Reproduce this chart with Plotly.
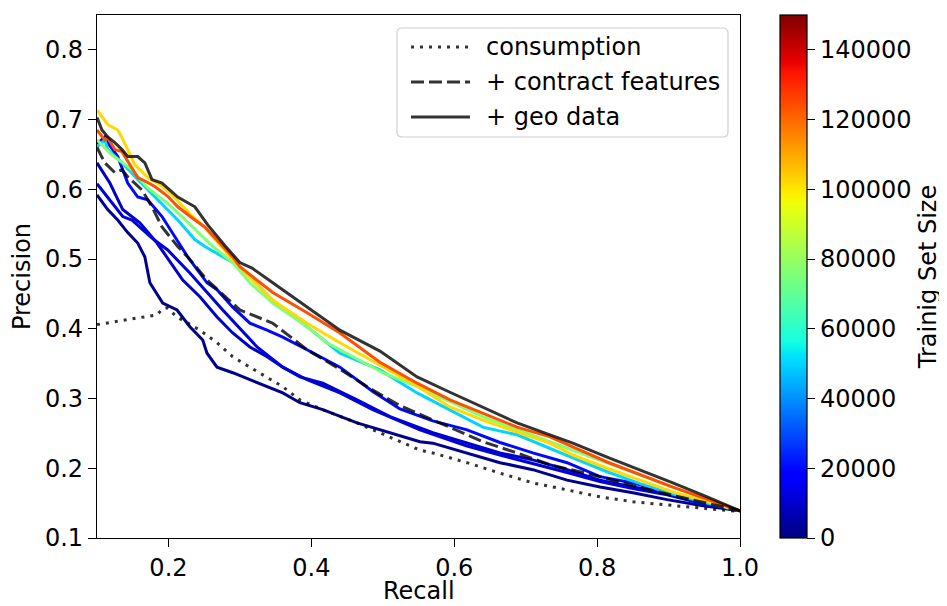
import plotly.graph_objects as go

# ---------------- data ----------------
train_sizes = [2000, 9500, 12000, 20000, 50000, 76000, 102000, 124000]

recall_2000 = [0.100, 0.115, 0.129, 0.143, 0.157, 0.167, 0.174, 0.192, 0.212, 0.230, 0.248, 0.254, 0.268, 0.290,
               0.314, 0.338, 0.360, 0.384, 0.416, 0.464, 0.510, 0.552, 0.570, 0.618, 0.664, 0.710, 0.758, 0.804,
               0.850, 0.898, 0.944, 1.000]
precision_2000 = [0.592, 0.571, 0.556, 0.538, 0.523, 0.503, 0.466, 0.437, 0.427, 0.403, 0.384, 0.365, 0.345, 0.337,
                  0.327, 0.317, 0.308, 0.294, 0.284, 0.265, 0.251, 0.238, 0.236, 0.222, 0.208, 0.198, 0.183, 0.173,
                  0.165, 0.155, 0.147, 0.139]

recall_9500 = [0.100, 0.118, 0.136, 0.160, 0.184, 0.206, 0.220, 0.244, 0.268, 0.290, 0.314, 0.338, 0.360, 0.384,
               0.416, 0.464, 0.510, 0.570, 0.618, 0.664, 0.710, 0.758, 0.804, 0.850, 0.898, 0.944, 1.000]
precision_9500 = [0.638, 0.609, 0.571, 0.552, 0.523, 0.490, 0.470, 0.446, 0.417, 0.394, 0.374, 0.360, 0.345, 0.331,
                  0.322, 0.298, 0.274, 0.251, 0.236, 0.222, 0.212, 0.198, 0.183, 0.173, 0.165, 0.150, 0.139]

recall_12000 = [0.100, 0.125, 0.136, 0.149, 0.177, 0.199, 0.230, 0.276, 0.324, 0.360, 0.394, 0.440, 0.486, 0.552,
                0.618, 0.664, 0.710, 0.758, 0.804, 0.850, 0.898, 0.944, 1.000]
precision_12000 = [0.608, 0.575, 0.561, 0.556, 0.530, 0.513, 0.480, 0.427, 0.374, 0.345, 0.327, 0.308, 0.284, 0.255,
                   0.232, 0.219, 0.207, 0.194, 0.181, 0.171, 0.162, 0.150, 0.139]

recall_20000 = [0.100, 0.111, 0.115, 0.129, 0.143, 0.157, 0.171, 0.191, 0.209, 0.227, 0.254, 0.268, 0.290, 0.314,
                0.338, 0.360, 0.394, 0.440, 0.486, 0.524, 0.570, 0.618, 0.664, 0.710, 0.758, 0.804, 0.850, 0.898,
                0.944, 1.000]
precision_20000 = [0.665, 0.675, 0.667, 0.647, 0.609, 0.589, 0.585, 0.561, 0.532, 0.503, 0.466, 0.456, 0.431, 0.408,
                   0.398, 0.388, 0.370, 0.345, 0.310, 0.285, 0.268, 0.255, 0.237, 0.222, 0.208, 0.188, 0.179, 0.165,
                   0.152, 0.139]

recall_50000 = [0.100, 0.111, 0.115, 0.135, 0.157, 0.181, 0.213, 0.237, 0.251, 0.290, 0.300, 0.346, 0.394, 0.440,
                0.496, 0.548, 0.594, 0.640, 0.688, 0.734, 0.766, 0.814, 0.860, 0.906, 0.954, 1.000]
precision_50000 = [0.661, 0.671, 0.657, 0.638, 0.614, 0.589, 0.556, 0.528, 0.518, 0.495, 0.489, 0.441, 0.403, 0.365,
                   0.341, 0.308, 0.284, 0.259, 0.248, 0.228, 0.215, 0.195, 0.178, 0.163, 0.150, 0.139]

recall_76000 = [0.100, 0.120, 0.135, 0.149, 0.171, 0.199, 0.227, 0.260, 0.290, 0.314, 0.346, 0.394, 0.422, 0.454,
                0.500, 0.548, 0.640, 0.734, 0.814, 0.906, 1.000]
precision_76000 = [0.671, 0.650, 0.639, 0.628, 0.602, 0.580, 0.553, 0.520, 0.495, 0.466, 0.437, 0.403, 0.380, 0.362,
                   0.337, 0.317, 0.274, 0.238, 0.208, 0.173, 0.139]

recall_102000 = [0.100, 0.115, 0.129, 0.135, 0.153, 0.171, 0.191, 0.209, 0.230, 0.251, 0.290, 0.317, 0.346, 0.394,
                 0.440, 0.500, 0.548, 0.594, 0.640, 0.688, 0.734, 0.766, 0.814, 0.860, 0.906, 0.954, 1.000]
precision_102000 = [0.714, 0.693, 0.685, 0.674, 0.635, 0.617, 0.605, 0.588, 0.565, 0.545, 0.499, 0.470, 0.441, 0.408,
                    0.380, 0.345, 0.318, 0.288, 0.269, 0.252, 0.236, 0.219, 0.200, 0.183, 0.166, 0.152, 0.139]

recall_124000 = [0.100, 0.111, 0.115, 0.125, 0.135, 0.157, 0.167, 0.181, 0.199, 0.213, 0.237, 0.251, 0.261, 0.290,
                 0.300, 0.346, 0.394, 0.440, 0.496, 0.548, 0.594, 0.640, 0.688, 0.734, 0.814, 0.906, 1.000]
precision_124000 = [0.685, 0.671, 0.674, 0.657, 0.654, 0.617, 0.612, 0.604, 0.590, 0.575, 0.556, 0.546, 0.535, 0.503,
                    0.489, 0.452, 0.423, 0.394, 0.352, 0.322, 0.298, 0.279, 0.259, 0.245, 0.209, 0.173, 0.139]

recall_consumption = [0.100, 0.184, 0.192, 0.198, 0.212, 0.244, 0.268, 0.290, 0.314, 0.338, 0.360, 0.384, 0.416,
                      0.464, 0.510, 0.552, 0.570, 0.618, 0.664, 0.710, 0.758, 0.804, 0.850, 0.898, 0.944, 1.000]
precision_consumption = [0.406, 0.420, 0.429, 0.430, 0.417, 0.398, 0.380, 0.360, 0.345, 0.331, 0.317, 0.298, 0.284,
                         0.265, 0.245, 0.226, 0.222, 0.208, 0.193, 0.179, 0.169, 0.159, 0.152, 0.147, 0.143, 0.138]

recall_contract = [0.100, 0.111, 0.125, 0.135, 0.143, 0.163, 0.177, 0.191, 0.213, 0.227, 0.254, 0.300, 0.346, 0.394,
                   0.440, 0.486, 0.524, 0.594, 0.640, 0.688, 0.734, 0.804, 0.850, 0.898, 0.944, 1.000]
precision_contract = [0.660, 0.638, 0.624, 0.628, 0.618, 0.599, 0.575, 0.546, 0.518, 0.503, 0.470, 0.427, 0.408,
                      0.370, 0.342, 0.312, 0.290, 0.258, 0.238, 0.222, 0.205, 0.188, 0.175, 0.163, 0.152, 0.139]

recall_geo = [0.100, 0.107, 0.115, 0.125, 0.135, 0.143, 0.157, 0.167, 0.177, 0.191, 0.213, 0.237, 0.255, 0.280, 0.300,
              0.317, 0.346, 0.394, 0.440, 0.496, 0.548, 0.594, 0.640, 0.688, 0.734, 0.766, 0.814, 0.860, 0.906, 0.954,
              1.000]
precision_geo = [0.703, 0.685, 0.675, 0.667, 0.657, 0.647, 0.647, 0.638, 0.614, 0.609, 0.589, 0.575, 0.549, 0.518,
                 0.495, 0.487, 0.466, 0.431, 0.398, 0.368, 0.331, 0.309, 0.288, 0.265, 0.248, 0.236, 0.216, 0.198,
                 0.179, 0.159, 0.139]

colored_curves = [
    (recall_2000, precision_2000),
    (recall_9500, precision_9500),
    (recall_12000, precision_12000),
    (recall_20000, precision_20000),
    (recall_50000, precision_50000),
    (recall_76000, precision_76000),
    (recall_102000, precision_102000),
    (recall_124000, precision_124000),
]

feature_names = ["consumption", "+ contract features", "+ geo data"]
feature_curves = [(recall_consumption, precision_consumption),
                  (recall_contract, precision_contract),
                  (recall_geo, precision_geo)]

cbar_tickvals = [0, 20000, 40000, 60000, 80000, 100000, 120000, 140000]
cbar_ticktext = [str(v) for v in cbar_tickvals]
x_tickvals = [0.2, 0.4, 0.6, 0.8, 1.0]
y_tickvals = [0.1, 0.2, 0.3, 0.4, 0.5, 0.6, 0.7, 0.8]
SIZE_MAX = 150000

# ---------------- styling ----------------
FONT = "DejaVu Sans"
FS = 24
LW = 3
DARK = "rgba(0,0,0,0.8)"
feature_dashes = ["3px,6px", "13px,5px", "solid"]

# plot area in window pixels (reference) and body offset of the page
W, H = 947, 606
PL, PR, PT, PB = 97, 740, 15, 538
OFF = 8

# matplotlib "jet" colormap
_jet = {
    "r": [(0, 0), (0.35, 0), (0.66, 1), (0.89, 1), (1, 0.5)],
    "g": [(0, 0), (0.125, 0), (0.375, 1), (0.64, 1), (0.91, 0), (1, 0)],
    "b": [(0, 0.5), (0.11, 1), (0.34, 1), (0.65, 0), (1, 0)],
}


def _interp(pts, t):
    for (x0, y0), (x1, y1) in zip(pts[:-1], pts[1:]):
        if x0 <= t <= x1:
            return y0 + (y1 - y0) * (t - x0) / (x1 - x0)
    return pts[-1][1]


def jet(t):
    r, g, b = (_interp(_jet[c], t) for c in "rgb")
    return "rgb(%d,%d,%d)" % (round(r * 255), round(g * 255), round(b * 255))


stops = sorted({s for c in _jet.values() for s, _ in c})
jet_scale = [[s, jet(s)] for s in stops]


def px_x(px):
    return (px - PL) / (PR - PL)


def px_y(py):
    return (PB - py) / (PB - PT)


def rounded_box(x0, y0, x1, y1, r):
    # path in paper coordinates, corners given in window pixels
    X = lambda v: "%.5f" % px_x(v)
    Y = lambda v: "%.5f" % px_y(v)
    return ("M{a},{b} L{c},{b} Q{d},{b} {d},{e} L{d},{f} Q{d},{g} {c},{g} L{a},{g} "
            "Q{h},{g} {h},{f} L{h},{e} Q{h},{b} {a},{b} Z").format(
        a=X(x0 + r), b=Y(y0), c=X(x1 - r), d=X(x1), e=Y(y0 + r), f=Y(y1 - r), g=Y(y1), h=X(x0))


fig = go.Figure()

for size, (rx, py) in zip(train_sizes, colored_curves):
    fig.add_trace(go.Scatter(x=rx, y=py, mode="lines", showlegend=False,
                             line=dict(color=jet(size / SIZE_MAX), width=LW), hoverinfo="skip"))

for name, dash, (rx, py) in zip(feature_names, feature_dashes, feature_curves):
    fig.add_trace(go.Scatter(x=rx, y=py, mode="lines", name=name, showlegend=False,
                             line=dict(color=DARK, width=LW, dash=dash)))

# colorbar carrier (point outside the visible range)
fig.add_trace(go.Scatter(
    x=[0.5], y=[-1], mode="markers", showlegend=False, hoverinfo="skip",
    marker=dict(color=[0], colorscale=jet_scale, cmin=0, cmax=SIZE_MAX, showscale=True, size=1,
                colorbar=dict(
                    x=px_x(780), xanchor="left", xref="paper", y=0.5, yanchor="middle",
                    len=1, lenmode="fraction", thickness=27, thicknessmode="pixels",
                    xpad=0, ypad=0, outlinewidth=1.2, outlinecolor="black",
                    ticks="outside", ticklen=8, tickwidth=1.2, tickcolor="black",
                    tickvals=cbar_tickvals, ticktext=cbar_ticktext,
                    tickfont=dict(family=FONT, size=FS, color="black"),
                    title=dict(text="Trainig Set Size", side="right",
                               font=dict(family=FONT, size=FS, color="black")),
                )),
))

# hand-drawn legend (matplotlib-like, with long line samples and rounded frame)
shapes = [dict(type="path", xref="paper", yref="paper", path=rounded_box(397, 28, 728, 137, 5),
               line=dict(color="#d0d0d0", width=1.2), fillcolor="rgba(255,255,255,0.8)", layer="above")]
annotations = []
for i, (name, dash) in enumerate(zip(feature_names, feature_dashes)):
    yc = 47 + 35 * i
    shapes.append(dict(type="line", xref="paper", yref="paper", x0=px_x(411), x1=px_x(470),
                       y0=px_y(yc), y1=px_y(yc), line=dict(color=DARK, width=LW, dash=dash), layer="above"))
    annotations.append(dict(xref="paper", yref="paper", x=px_x(484), y=px_y(yc), xanchor="left",
                            yanchor="middle", text=name, showarrow=False,
                            font=dict(family=FONT, size=FS, color="black")))

# x axis title as annotation, kept inside the visible window
annotations.append(dict(xref="paper", yref="paper", x=0.5, y=px_y(606), xanchor="center", yanchor="bottom",
                        text="Recall", showarrow=False, borderpad=0,
                        font=dict(family=FONT, size=FS, color="black")))

axis_common = dict(showgrid=False, zeroline=False, showline=True, linecolor="black", linewidth=1.2,
                   mirror=True, ticks="outside", ticklen=8, tickwidth=1.2, tickcolor="black",
                   automargin=False, tickfont=dict(family=FONT, size=FS, color="black"))

fig.update_layout(
    template="none",
    width=W, height=H,
    margin=dict(l=PL - OFF, r=W - PR + OFF, t=PT - OFF, b=H - PB + OFF, pad=0),
    paper_bgcolor="white", plot_bgcolor="white",
    font=dict(family=FONT, size=FS, color="black"),
    xaxis=dict(range=[0.1, 1.0], tickvals=x_tickvals, ticktext=["0.2", "0.4", "0.6", "0.8", "1.0"],
               **axis_common),
    yaxis=dict(range=[0.1, 0.85], tickvals=y_tickvals, ticktext=["%.1f" % v for v in y_tickvals],
               title=dict(text="Precision", standoff=10, font=dict(family=FONT, size=FS)), **axis_common),
    shapes=shapes,
    annotations=annotations,
    showlegend=False,
)

fig.write_html("out.html")
